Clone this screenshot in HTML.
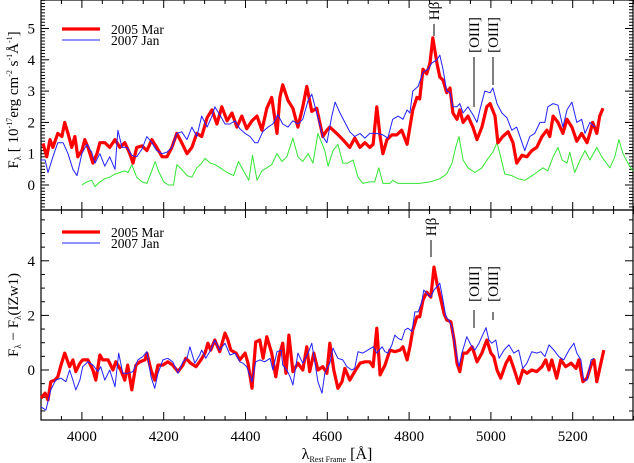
<!DOCTYPE html>
<html><head><meta charset="utf-8"><style>
html,body{margin:0;padding:0;background:#fff;}
svg{display:block;font-family:"Liberation Serif",serif;}
</style></head><body>
<svg id="chart" width="634" height="463" viewBox="0 0 634 463" xmlns="http://www.w3.org/2000/svg">
<g id="axes"></g>
<g id="series"></g>
<g id="labels"></g>
</svg>
<script>
// ---- data ----
const topRedW=[3905,3914,3922,3929,3941,3951,3958,3966,3975,3983,3990,4000,4007,4015,4027,4037,4044,4056,4068,4081,4093,4105,4117,4125,4134,4147,4159,4171,4183,4196,4208,4220,4232,4244,4257,4269,4281,4293,4306,4318,4330,4342,4355,4367,4379,4391,4403,4416,4428,4440,4452,4464,4477,4484,4491,4504,4516,4528,4540,4550,4562,4574,4589,4599,4606,4623,4638,4655,4667,4680,4692,4704,4712,4721,4729,4736,4746,4758,4770,4782,4795,4802,4809,4819,4826,4834,4843,4851,4858,4868,4875,4883,4892,4900,4907,4917,4924,4932,4944,4956,4966,4978,4990,4998,5010,5017,5029,5042,5054,5063,5076,5088,5100,5112,5125,5137,5144,5152,5164,5176,5186,5198,5210,5222,5235,5242,5249,5259,5266,5274];
const topRedV=[1.33,0.9,1.45,1.2,1.65,1.55,2.0,1.65,1.2,1.55,0.9,1.1,1.45,1.2,0.7,1.0,1.35,1.35,1.2,1.45,1.2,1.35,1.0,0.7,1.2,1.25,1.1,1.45,1.2,0.9,0.9,1.2,1.65,1.35,1.0,1.2,1.65,1.55,2.15,2.4,1.95,2.5,2.05,2.3,1.85,2.2,1.8,2.05,2.2,1.75,2.45,2.8,1.65,2.8,3.2,2.7,2.45,1.85,2.5,3.15,2.35,2.45,1.55,1.75,1.85,1.65,1.45,1.2,1.5,1.2,1.35,1.2,1.3,2.5,1.55,1.0,1.45,1.6,1.6,1.75,1.3,1.85,2.4,2.8,2.75,3.7,3.55,3.9,4.7,3.9,3.45,3.35,2.95,3.1,2.3,2.1,2.4,2.0,2.2,1.85,1.45,1.85,2.5,2.6,2.2,1.35,1.55,1.7,1.35,0.7,0.95,0.9,1.1,1.2,1.55,1.75,1.55,2.2,2.0,1.65,2.1,1.85,1.4,1.65,1.35,1.65,2.0,1.65,2.2,2.45];
const topBlueW=[3900,3910,3917,3929,3941,3954,3966,3978,3988,4000,4012,4024,4032,4044,4056,4068,4081,4088,4098,4110,4122,4134,4147,4159,4171,4183,4196,4208,4220,4232,4244,4257,4269,4281,4293,4306,4318,4325,4337,4350,4362,4374,4386,4399,4411,4423,4430,4442,4455,4467,4479,4491,4504,4516,4528,4540,4553,4562,4574,4589,4599,4611,4619,4631,4643,4655,4667,4680,4692,4704,4721,4736,4748,4760,4773,4785,4795,4802,4809,4822,4834,4846,4856,4868,4875,4883,4892,4900,4907,4917,4924,4932,4944,4956,4966,4973,4985,4998,5005,5015,5027,5039,5051,5063,5076,5083,5095,5107,5120,5132,5139,5152,5164,5176,5186,5198,5210,5222,5230,5242,5254];
const topBlueV=[0.8,0.8,0.4,0.9,1.35,1.35,1.0,0.5,0.3,1.0,1.3,1.05,0.7,1.0,0.6,0.9,0.5,1.75,1.2,1.2,0.95,0.9,1.15,1.55,1.35,1.1,1.0,1.05,1.2,1.65,1.7,1.45,1.85,1.55,2.2,1.85,2.2,2.5,2.25,1.95,1.95,2.05,1.8,1.65,1.55,1.35,1.35,1.7,1.85,1.95,2.25,1.95,1.85,2.05,1.95,2.1,2.7,2.9,2.3,1.55,1.35,2.2,2.65,2.3,2.0,1.7,1.55,1.65,1.5,1.65,1.65,1.6,1.5,2.1,2.2,2.1,2.4,2.3,3.0,3.15,3.6,3.7,3.9,4.0,4.15,3.7,3.0,2.95,2.5,2.5,2.6,2.3,2.5,2.25,2.0,2.4,3.0,2.95,3.1,2.6,2.3,2.15,1.75,1.85,1.35,1.1,1.55,1.65,2.0,2.0,2.5,2.6,2.55,1.85,2.4,2.65,2.0,2.1,1.65,2.0,1.85];
const topGreenW=[4000,4012,4024,4032,4044,4056,4068,4081,4093,4105,4113,4122,4134,4147,4159,4171,4179,4187,4200,4212,4224,4232,4244,4257,4269,4281,4293,4301,4314,4326,4338,4355,4371,4383,4395,4408,4417,4428,4440,4452,4464,4477,4489,4501,4516,4528,4540,4553,4565,4577,4594,4602,4614,4626,4638,4650,4663,4675,4687,4704,4716,4726,4736,4753,4760,4773,4795,4826,4851,4875,4892,4905,4914,4922,4932,4944,4961,4978,4993,5005,5015,5022,5034,5051,5066,5083,5095,5112,5127,5139,5152,5164,5174,5186,5193,5205,5218,5230,5242,5259,5271,5291,5303,5313,5323,5335,5347];
const topGreenV=[0.0,0.1,0.15,-0.05,0.1,0.2,0.25,0.35,0.4,0.45,0.4,0.65,0.25,0.1,0.05,0.45,0.75,0.45,0.1,0.0,0.0,0.65,0.5,0.3,0.25,0.55,0.7,0.85,0.7,0.65,0.55,0.4,0.3,0.75,0.45,0.15,0.95,0.15,0.45,0.55,0.65,1.0,0.75,0.9,1.5,0.9,0.75,1.0,0.7,1.65,1.1,0.6,1.1,1.3,0.7,0.7,0.8,0.25,0.05,0.1,0.1,0.55,0.05,0.05,0.15,0.05,0.05,0.05,0.1,0.2,0.35,0.7,1.2,1.55,0.8,0.55,0.4,0.55,0.85,1.05,1.35,1.0,0.35,0.3,0.2,0.15,0.25,0.4,0.55,0.45,0.9,1.2,0.8,0.7,1.05,0.4,0.8,1.1,0.8,1.2,0.9,0.55,0.9,1.45,1.0,0.7,0.45];
const botRedW=[3900,3910,3917,3924,3934,3941,3949,3958,3970,3978,3985,3995,4002,4015,4027,4034,4044,4051,4064,4076,4083,4095,4105,4112,4122,4132,4142,4154,4159,4169,4178,4186,4198,4210,4222,4235,4247,4254,4266,4279,4291,4301,4308,4315,4325,4337,4350,4357,4364,4377,4386,4399,4406,4416,4425,4435,4443,4452,4464,4474,4482,4491,4499,4506,4516,4528,4540,4550,4557,4567,4577,4589,4599,4606,4616,4626,4636,4643,4655,4667,4680,4692,4704,4712,4721,4729,4741,4753,4765,4778,4785,4795,4802,4809,4819,4826,4834,4843,4853,4861,4868,4878,4885,4892,4902,4910,4917,4924,4932,4941,4954,4966,4978,4990,5000,5007,5015,5024,5037,5046,5056,5068,5078,5088,5100,5112,5125,5134,5142,5149,5161,5171,5183,5196,5208,5215,5225,5235,5245,5252,5259,5269,5276];
const botRedV=[-1.03,-0.85,-1.1,-0.43,-0.37,-0.25,0.18,0.62,0.12,0.37,-0.06,0.25,0.37,0.37,0.0,-0.37,0.55,0.37,0.37,0.0,0.3,0.0,-0.37,0.18,-0.73,0.18,0.3,0.37,0.62,0.0,-0.37,0.18,0.18,0.3,0.18,-0.06,0.18,0.43,0.25,0.12,0.37,0.62,0.98,0.73,1.1,0.67,1.35,1.1,0.73,0.62,0.37,0.62,0.25,-0.67,1.03,1.1,0.43,1.22,0.62,-0.25,0.5,0.98,-0.12,1.28,-0.06,0.25,0.0,0.85,-0.06,0.62,0.0,0.12,-0.12,0.98,0.0,-0.67,-0.43,0.06,-0.37,-0.06,0.25,0.3,0.3,0.12,1.53,-0.18,0.18,0.73,0.67,0.73,0.85,0.37,0.85,1.47,1.95,1.95,2.56,2.85,2.67,3.77,3.18,2.56,2.08,1.83,1.77,1.1,0.25,-0.06,0.62,0.62,0.85,0.3,0.62,1.1,0.62,0.49,0.0,-0.3,0.25,0.49,0.06,-0.49,0.0,-0.12,0.0,-0.06,0.12,0.37,0.0,0.37,-0.3,0.37,0.12,0.25,0.06,0.37,-0.43,-0.3,0.18,0.37,-0.43,0.25,0.73];
const botBlueW=[3900,3912,3924,3936,3949,3961,3970,3978,3985,3995,4002,4015,4027,4039,4046,4056,4068,4081,4090,4100,4112,4125,4137,4149,4159,4169,4178,4186,4198,4210,4222,4235,4247,4257,4264,4276,4288,4293,4303,4315,4325,4337,4350,4362,4374,4386,4394,4403,4416,4425,4435,4447,4460,4467,4477,4487,4491,4501,4509,4516,4528,4540,4553,4562,4570,4577,4587,4594,4606,4614,4626,4638,4648,4660,4667,4675,4687,4699,4712,4721,4734,4741,4748,4758,4765,4773,4782,4790,4797,4807,4814,4822,4831,4836,4843,4853,4861,4868,4875,4880,4890,4897,4905,4914,4922,4929,4941,4951,4961,4971,4978,4988,4995,5002,5012,5020,5032,5044,5056,5068,5078,5088,5100,5112,5122,5132,5142,5154,5166,5178,5191,5203,5210,5220,5227,5235,5245,5252];
const botBlueV=[-1.35,-1.47,-0.73,-0.37,-0.3,-0.43,0.0,-0.37,-0.73,-0.37,0.12,0.3,0.18,-0.06,0.12,-0.37,0.0,-0.61,0.62,-0.12,-0.12,-0.06,0.37,0.49,0.67,-0.25,-0.67,-0.12,0.37,0.43,0.3,-0.12,0.3,0.43,0.85,0.25,0.55,0.73,0.43,0.73,1.1,0.73,0.98,0.55,0.62,0.3,0.25,0.12,-0.43,0.3,0.37,0.3,0.43,0.0,0.67,0.73,0.18,0.0,-0.25,-0.55,0.62,0.25,0.62,0.98,0.25,-0.43,-0.85,-0.12,0.25,0.8,0.43,0.37,0.12,0.0,0.06,0.67,0.62,0.73,0.85,0.62,0.85,0.67,0.62,0.92,1.28,1.16,1.1,1.47,1.53,1.41,2.13,2.13,2.5,2.93,2.8,2.67,2.93,3.05,3.18,2.8,1.95,1.83,1.58,0.73,0.12,0.62,1.22,0.92,0.73,0.98,1.22,1.55,1.1,0.98,1.1,0.43,0.73,0.92,0.62,0.73,0.06,0.25,0.67,0.62,0.67,0.49,0.92,0.73,0.49,0.37,0.73,0.98,0.62,0.37,-0.37,-0.37,0.37,0.43];
const xTickLabels=[4000,4200,4400,4600,4800,5000,5200];
const topYTicks=[0,1,2,3,4,5];
const botYTicks=[0,2,4];

// ---- scales ----
const L=41,R=633;
const X=l=>L+(l-3900)*0.409;
const topPanel={y0:0,y1:210,Y:v=>185-v*31.3};
const botPanel={y0:210,y1:420,Y:v=>370-v*27.3};
const NS="http://www.w3.org/2000/svg";
function mk(tag,attrs,parent){const e=document.createElementNS(NS,tag);for(const k in attrs)e.setAttribute(k,attrs[k]);parent.appendChild(e);return e;}
const gA=document.getElementById('axes'),gS=document.getElementById('series'),gL=document.getElementById('labels');

function panelAxes(p,name,minorStep,majorStep,vmin,vmax){
  const fr=mk('rect',{x:L,y:p.y0,width:R-L,height:p.y1-p.y0,fill:'none',stroke:'#000','stroke-width':1.2},gA);
  
  
  for(let l=3900;l<=5350;l+=50){
    const len=(l%200===0)?8:4,x=X(l);
    const t1=mk('line',{x1:x,x2:x,y1:p.y1,y2:p.y1-len,stroke:'#000','stroke-width':1},gA);
    
    
    const t2=mk('line',{x1:x,x2:x,y1:p.y0,y2:p.y0+len,stroke:'#000','stroke-width':1},gA);
    
    
  }
  for(let v=vmin;v<=vmax+1e-6;v+=minorStep){
    const y=p.Y(v);if(y<p.y0||y>p.y1)continue;
    const maj=Math.abs(v/majorStep-Math.round(v/majorStep))<1e-6;
    const len=maj?8:4;
    const a=mk('line',{x1:L,x2:L+len,y1:y,y2:y,stroke:'#000','stroke-width':1},gA);
    
    
    const b=mk('line',{x1:R,x2:R-len,y1:y,y2:y,stroke:'#000','stroke-width':1},gA);
    
    
  }
}
panelAxes(topPanel,'top-panel',0.1,1,-1,6);
panelAxes(botPanel,'bottom-panel',0.5,2,-2,6);

topYTicks.forEach(v=>{const t=mk('text',{x:35,y:topPanel.Y(v)+5,'text-anchor':'end','font-size':15},gA);t.textContent=v;
  
  });
botYTicks.forEach(v=>{const t=mk('text',{x:35,y:botPanel.Y(v)+5,'text-anchor':'end','font-size':15},gA);t.textContent=v;
  
  });
xTickLabels.forEach(v=>{const t=mk('text',{x:X(v),y:441,'text-anchor':'middle','font-size':15},gA);t.textContent=v;
  
  });

function line(W,V,p,color,w,name){
  const d=W.map((l,i)=>(i?'L':'M')+X(l).toFixed(1)+' '+p.Y(V[i]).toFixed(1)).join(' ');
  const e=mk('path',{d:d,fill:'none',stroke:color,'stroke-width':w,'stroke-linejoin':'round'},gS);
  
  
}
line(topGreenW,topGreenV,topPanel,'#33e633',1,'top-iZw1-template-line');
line(topRedW,topRedV,topPanel,'#ff0000',3.2,'top-2005-mar-line');
line(topBlueW,topBlueV,topPanel,'#2222ff',1,'top-2007-jan-line');
line(botRedW,botRedV,botPanel,'#ff0000',3.2,'bottom-2005-mar-line');
line(botBlueW,botBlueV,botPanel,'#2222ff',1,'bottom-2007-jan-line');

function legend(y,name){
  const a=mk('line',{x1:62,x2:100,y1:y,y2:y,stroke:'#ff0000','stroke-width':3.2},gL);
  
  
  const t=mk('text',{x:111,y:y+5,'font-size':13.5},gL);t.textContent='2005 Mar';
  
  
  const b=mk('line',{x1:62,x2:100,y1:y+11,y2:y+11,stroke:'#2222ff','stroke-width':1},gL);
  
  
  const u=mk('text',{x:111,y:y+16,'font-size':13.5},gL);u.textContent='2007 Jan';
  
  
}
legend(29,'top-legend');
legend(232,'bottom-legend');

function mark(x,ytxt,y1,y2,txt,name){
  const l=mk('line',{x1:x,x2:x,y1:y1,y2:y2,stroke:'#000','stroke-width':1},gL);
  
  
  const t=mk('text',{x:0,y:0,'font-size':15,'text-anchor':'middle',transform:'translate('+(x+5)+','+ytxt+') rotate(-90)'},gL);
  t.textContent=txt;
  
  
}
mark(434,11,24,36,'Hβ','top-hbeta');
mark(474,35,57,107,'[OIII]','top-oiii-4959');
mark(493,35,57,85,'[OIII]','top-oiii-5007');
mark(431,227,240,257,'Hβ','bottom-hbeta');
mark(474,284,310,328,'[OIII]','bottom-oiii-4959');
mark(493,284,312,320,'[OIII]','bottom-oiii-5007');
</script>
<svg style="position:absolute;left:0;top:0" width="634" height="463" xmlns="http://www.w3.org/2000/svg" font-family="Liberation Serif, serif">
<text transform="translate(18,100) rotate(-90)" text-anchor="middle" font-size="15">F<tspan font-size="9" dy="3">λ</tspan><tspan dy="-3"> [ 10</tspan><tspan font-size="8" dy="-6">-17</tspan><tspan dy="6">erg cm</tspan><tspan font-size="8" dy="-6">-2</tspan><tspan dy="6"> s</tspan><tspan font-size="8" dy="-6">-1</tspan><tspan dy="6">Å</tspan><tspan font-size="8" dy="-6">-1</tspan><tspan dy="6">]</tspan></text>
<text transform="translate(18,315) rotate(-90)" text-anchor="middle" font-size="15">F<tspan font-size="9" dy="3">λ</tspan><tspan dy="-3"> − F</tspan><tspan font-size="9" dy="3">λ</tspan><tspan dy="-3">(IZw1)</tspan></text>
<text x="337" y="459" text-anchor="middle" font-size="16">λ<tspan font-size="8" dy="3">Rest Frame</tspan><tspan dy="-3"> [Å]</tspan></text>
</svg>
</body></html>
